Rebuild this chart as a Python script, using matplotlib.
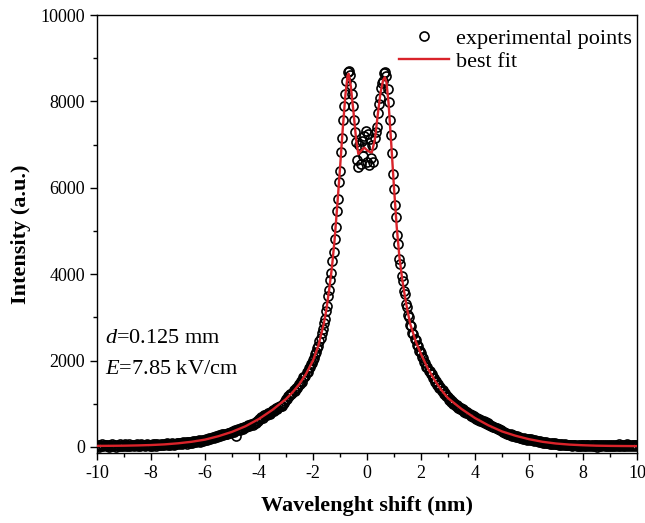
import numpy as np
import matplotlib.pyplot as plt

plt.rcParams['font.family'] = 'Liberation Serif'
plt.rcParams['mathtext.fontset'] = 'custom'
plt.rcParams['mathtext.rm'] = 'Liberation Serif'
plt.rcParams['mathtext.it'] = 'Liberation Serif:italic'
plt.rcParams['axes.unicode_minus'] = False

# experimental spectrum, sampled every 0.04 nm starting at -10 nm
x_start = -10.0
x_step = 0.04
exp_y = [
    30, 55, 10, 40, 25, 60, 15, 35, 50, 20, 45, 5, 40, 30, 65, 20, 35, 50, 10, 45, 30, 60, 25, 40, 15,
    35, 60, 20, 45, 30, 65, 25, 50, 40, 15, 55, 35, 70, 30, 45, 20, 60, 40, 55, 25, 50, 70, 35, 45, 30,
    50, 30, 70, 45, 60, 25, 75, 55, 40, 80, 50, 65, 35, 70, 60, 85, 45, 75, 55, 90, 65, 40, 80, 70, 95,
    85, 70, 100, 90, 75, 110, 95, 120, 80, 105, 125, 100, 115, 90, 130, 120, 140, 110, 135, 150, 125, 145, 160, 135, 155,
    170, 185, 160, 195, 200, 180, 215, 225, 205, 235, 250, 230, 255, 270, 245, 280, 290, 270, 300, 310, 290, 320, 335, 315, 340,
    350, 370, 355, 385, 250, 400, 410, 395, 430, 440, 425, 460, 470, 455, 490, 500, 485, 520, 530, 515, 555, 565, 550, 590, 610,
    655, 640, 690, 700, 680, 735, 745, 730, 780, 790, 770, 820, 830, 850, 840, 880, 895, 875, 925, 940, 960, 945, 1000, 1020, 1070,
    1120, 1100, 1180, 1170, 1230, 1220, 1250, 1310, 1300, 1370, 1360, 1400, 1460, 1450, 1530, 1500, 1620, 1610, 1650, 1730, 1740, 1830, 1840, 1920, 1940,
    2010, 2050, 2150, 2190, 2290, 2340, 2460, 2520, 2650, 2720, 2870, 2970, 3150, 3270, 3490, 3640, 3870, 4030, 4300, 4520, 4820, 5100, 5460, 5750, 6130,
    6400, 6830, 7150, 7580, 7900, 8180, 8470, 8690, 8710, 8620, 8380, 8170, 7900, 7560, 7300, 7050, 6650, 6480, 6980, 6560, 7080, 6740, 7200, 6950, 7320,
    6600, 7250, 6520, 7120, 6680, 7000, 6600, 7150, 7300, 7400, 7720, 7950, 8080, 8300, 8420, 8480, 8650, 8670, 8590, 8280, 7980, 7560, 7230, 6800, 6330,
    5980, 5600, 5320, 4900, 4700, 4350, 4230, 3960, 3850, 3620, 3530, 3320, 3250, 3050, 3000, 2820, 2790, 2640, 2620, 2490, 2470, 2350, 2330, 2220, 2230,
    2170, 2080, 2070, 1960, 1950, 1860, 1860, 1770, 1770, 1680, 1680, 1590, 1600, 1510, 1520, 1440, 1450, 1370, 1380, 1300, 1310, 1230, 1240, 1170, 1180,
    1150, 1090, 1100, 1040, 1060, 990, 1010, 960, 980, 905, 935, 880, 900, 850, 870, 820, 840, 780, 810, 760, 770, 720, 750, 690, 710,
    680, 650, 670, 620, 640, 600, 615, 580, 595, 560, 570, 530, 545, 505, 520, 490, 480, 455, 470, 430, 445, 410, 420, 385, 395,
    370, 340, 355, 320, 335, 300, 310, 285, 295, 265, 275, 250, 260, 235, 245, 220, 230, 205, 215, 195, 200, 180, 190, 170, 175,
    185, 160, 175, 150, 160, 140, 150, 130, 140, 120, 130, 110, 120, 100, 115, 95, 105, 90, 100, 80, 95, 75, 90, 70, 85,
    80, 60, 75, 55, 70, 50, 65, 45, 60, 40, 55, 35, 50, 40, 55, 30, 45, 35, 50, 25, 45, 30, 40, 20, 45,
    40, 25, 45, 20, 35, 50, 15, 40, 30, 55, 20, 35, 45, 10, 40, 30, 50, 20, 35, 45, 15, 40, 25, 50, 30,
    35, 15, 45, 25, 55, 20, 40, 30, 60, 15, 45, 35, 25, 50, 20, 40, 65, 30, 45, 20, 55, 35, 25, 50, 40, 30,
]
exp_x = np.round(x_start + x_step * np.arange(len(exp_y)), 2)

# best fit curve
fit_x = [-10, -9.5, -9, -8.5, -8, -7.5, -7, -6.5, -6, -5.5, -5, -4.5, -4, -3.5, -3, -2.75,
         -2.5, -2.25, -2, -1.8, -1.6, -1.5, -1.4, -1.3, -1.2, -1.1, -1.0, -0.9, -0.8, -0.72,
         -0.68, -0.6, -0.5, -0.4, -0.32, -0.2, -0.1, 0.0, 0.1, 0.18, 0.3, 0.4, 0.5, 0.6, 0.66,
         0.72, 0.8, 0.9, 1.0, 1.1, 1.2, 1.3, 1.4, 1.5, 1.6, 1.8, 2.0, 2.25, 2.5, 2.75, 3.0,
         3.5, 4.0, 4.5, 5.0, 5.5, 6.0, 6.5, 7.0, 7.5, 8.0, 8.5, 9.0, 9.5, 10.0]
fit_y = [25, 27, 30, 36, 45, 60, 85, 120, 170, 250, 350, 480, 650, 860, 1110, 1270,
         1460, 1700, 2000, 2350, 2850, 3200, 3650, 4150, 4800, 5600, 6450, 7350, 8150, 8600,
         8640, 8350, 7750, 7100, 6780, 6870, 6930, 6870, 6830, 6820, 7150, 7700, 8200, 8500, 8560,
         8450, 7950, 7000, 6000, 5100, 4400, 3900, 3500, 3150, 2850, 2450, 2150, 1820, 1550, 1320, 1130,
         880, 670, 500, 360, 260, 180, 120, 80, 55, 40, 30, 25, 22, 20]

fig = plt.figure(figsize=(6.45, 5.23), dpi=100)
ax = fig.add_axes([0.1504, 0.1338, 0.8372, 0.8375])

ax.plot(exp_x, exp_y, 'o', mfc='none', mec='black', ms=6.5, mew=1.2,
        label='experimental points', zorder=2)
ax.plot(fit_x, fit_y, '-', color='#d9232a', lw=1.7, label='best fit', zorder=3)

ax.set_xlim(-10, 10)
ax.set_ylim(-140, 10000)
ax.set_xticks(np.arange(-10, 11, 2))
ax.set_xticks(np.arange(-9, 10, 2), minor=True)
ax.set_yticks(np.arange(0, 10001, 2000))
ax.set_yticks(np.arange(1000, 10000, 2000), minor=True)
ax.tick_params(which='both', direction='out', top=False, right=False, labelsize=13, width=1)
ax.tick_params(which='major', length=5)
ax.tick_params(which='minor', length=3)
for s in ax.spines.values():
    s.set_linewidth(1)

ax.set_xlabel('Wavelenght shift (nm)', fontsize=16, fontweight='bold', labelpad=10)
ax.set_ylabel('Intensity (a.u.)', fontsize=16, fontweight='bold', labelpad=7)

ax.text(-9.7, 2500, r'$d$=0.125 mm', fontsize=16, va='center', ha='left')
ax.text(-9.7, 1790, r'$E$=7.85 kV/cm', fontsize=16, va='center', ha='left')

ax.legend(loc='upper right', bbox_to_anchor=(1.015, 1.0), frameon=False, fontsize=16,
          handlelength=2.25, handletextpad=0.3, labelspacing=0.1, borderaxespad=0.2,
          numpoints=1)

fig.savefig('out.png', dpi=100)
